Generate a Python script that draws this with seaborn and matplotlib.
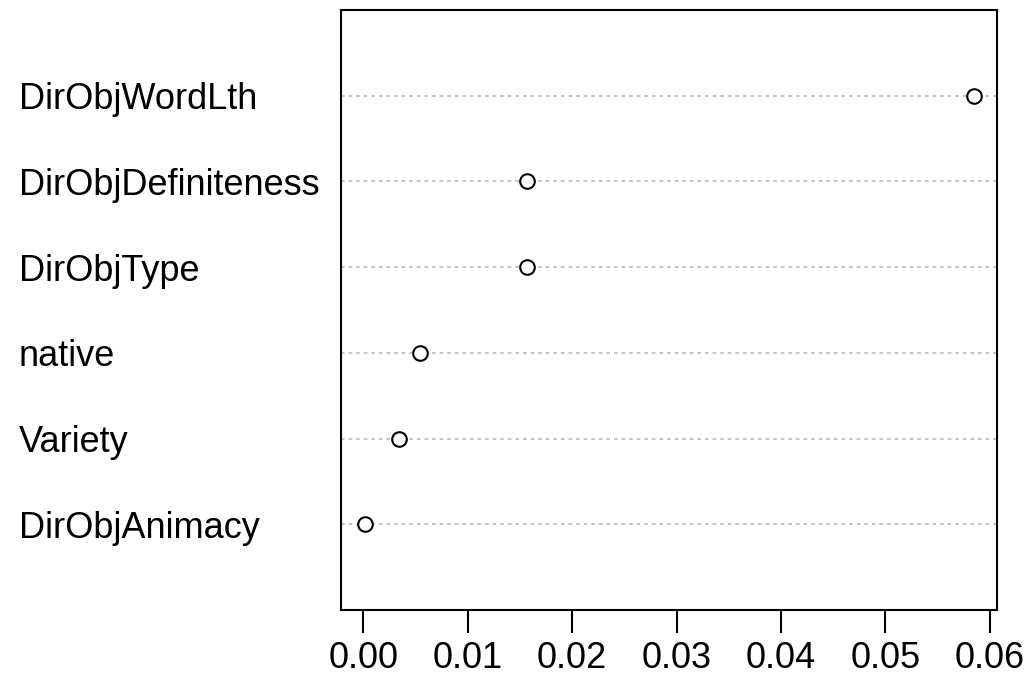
import matplotlib
matplotlib.use("Agg")
import matplotlib.pyplot as plt
import seaborn as sns
import pandas as pd

# variable importance, bottom row first (as in R dotchart)
variables = ["DirObjAnimacy", "Variety", "native", "DirObjType",
             "DirObjDefiniteness", "DirObjWordLth"]
importance = [0.0002, 0.0034, 0.0054, 0.0157, 0.0157, 0.0585]
xticks = [0.00, 0.01, 0.02, 0.03, 0.04, 0.05, 0.06]

df = pd.DataFrame({"var": variables, "imp": importance,
                   "pos": range(1, len(variables) + 1)})

sns.set_style("white")
plt.rcParams["font.family"] = ["Liberation Sans", "DejaVu Sans"]

fig = plt.figure(figsize=(10.27, 6.94), dpi=100)
ax = fig.add_axes([0.332, 0.121, 0.639, 0.8645])

# dotted guide lines across the box
for p in df["pos"]:
    ax.axhline(p, color="#bebebe", lw=1.3, ls=(0, (2, 2.2)), zorder=1)

sns.scatterplot(data=df, x="imp", y="pos", ax=ax, s=110, marker="o",
                facecolor="white", edgecolor="black", linewidth=1.5,
                zorder=3, legend=False)

ax.set_xlim(-0.00214, 0.0607)
ax.set_ylim(0, 7)
ax.set_xticks(xticks)
ax.set_xticklabels([f"{t:.2f}" for t in xticks])
ax.set_yticks(df["pos"])
ax.set_yticklabels(df["var"])
ax.set_xlabel("")
ax.set_ylabel("")

ax.tick_params(axis="x", length=16.5, width=1.5, pad=6, labelsize=26,
               colors="black", direction="out", bottom=True)
ax.tick_params(axis="y", length=0, pad=232, labelsize=26, labelcolor="black")
for lab in ax.get_yticklabels():
    lab.set_horizontalalignment("left")
    lab.set_verticalalignment("center_baseline")

for sp in ax.spines.values():
    sp.set_visible(True)
    sp.set_color("black")
    sp.set_linewidth(1.5)

fig.savefig("out.png", dpi=100, facecolor="white")
